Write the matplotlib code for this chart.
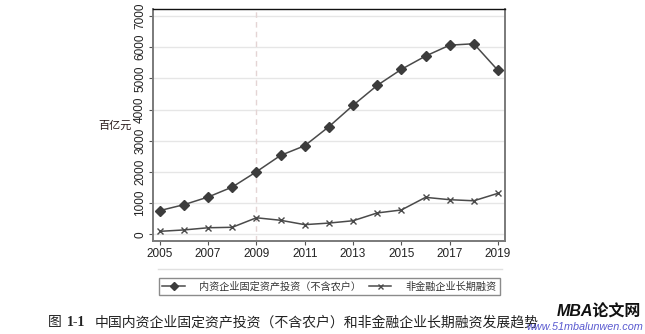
import matplotlib
matplotlib.use("Agg")
import matplotlib.pyplot as plt
from matplotlib.lines import Line2D

plt.rcParams['font.family'] = ['Liberation Sans', 'Noto Sans CJK SC', 'DejaVu Sans']

years = [2005, 2006, 2007, 2008, 2009, 2010, 2011, 2012, 2013, 2014,
         2015, 2016, 2017, 2018, 2019]
fixed_invest = [760, 950, 1195, 1515, 2005, 2530, 2840, 3450, 4135, 4775,
                5290, 5715, 6065, 6110, 5255]
long_finance = [95, 140, 210, 225, 530, 450, 310, 360, 435, 685,
                780, 1185, 1110, 1075, 1315]
xticks = [2005, 2007, 2009, 2011, 2013, 2015, 2017, 2019]
yticks = [0, 1000, 2000, 3000, 4000, 5000, 6000, 7000]
label_invest = "内资企业固定资产投资（不含农户）"
label_finance = "非金融企业长期融资"

W, H = 645, 334
fig = plt.figure(figsize=(W / 100, H / 100), dpi=100)
ax = fig.add_axes([153 / W, 1 - 240.7 / H, (505 - 153) / W, (240.7 - 9.3) / H])

line_c = '#4a4a4a'
ax.plot(years, fixed_invest, color=line_c, lw=1.1, marker='D', ms=5,
        mfc='#3c3c3c', mec='#3c3c3c', label=label_invest, zorder=3)
ax.plot(years, long_finance, color=line_c, lw=1.1, marker='x', ms=4.5,
        mew=1.0, mec='#4a4a4a', label=label_finance, zorder=3)

ax.axvline(2009, color='#e4d4d4', lw=1.0, ls=(0, (4, 3)), zorder=1)

ax.set_xlim(2004.72, 2019.29)
ax.set_ylim(-205, 7215)
ax.set_xticks(xticks)
ax.set_yticks(yticks)
ax.set_xticklabels([str(x) for x in xticks], fontsize=8.5, color='#222222')
ax.set_yticklabels([str(y) for y in yticks], fontsize=8.5, color='#222222',
                   rotation=90, va='center')
ax.yaxis.grid(True, color='#e6e6e6', lw=1.0)
ax.set_axisbelow(True)
ax.tick_params(axis='both', length=3, width=0.8, color='#555555', pad=2)

for side in ('left', 'right', 'bottom'):
    ax.spines[side].set_color('#7a7a7a')
    ax.spines[side].set_linewidth(1.4)
ax.spines['top'].set_color('#111111')
ax.spines['top'].set_linewidth(1.0)

fig.text(115 / W, 1 - 126 / H, "百亿元", fontsize=8, ha='center', va='center',
         color='#2a1a1a')

# thin rule above the legend
fig.add_artist(Line2D([158 / W, 502 / W], [1 - 269 / H, 1 - 269 / H],
                      transform=fig.transFigure, color='#e0e0e0', lw=1.0))

leg = fig.legend(loc='center', ncol=2,
                 bbox_to_anchor=(329.5 / W, 1 - 286.5 / H),
                 fontsize=7.3, frameon=True, fancybox=False, edgecolor='#6e6e6e',
                 handlelength=2.2, handletextpad=1.4, borderpad=0.3,
                 columnspacing=0.8, markerscale=0.8)
leg.get_frame().set_linewidth(1.0)
for t in leg.get_texts():
    t.set_color('#333333')

# figure caption
cap_y = 1 - 322 / H
fig.text(48 / W, cap_y, "图", fontsize=10, ha='left', va='center', color='#222222')
fig.text(67 / W, cap_y, "1-1", fontsize=10, fontweight='bold', ha='left',
         va='center', color='#222222', family=['Liberation Serif'])
fig.text(95 / W, cap_y,
         "中国内资企业固定资产投资（不含农户）和非金融企业长期融资发展趋势",
         fontsize=10, ha='left', va='center', color='#222222')

# site mark
fig.text(641 / W, 1 - 312 / H, "MBA论文网", fontsize=11.5, fontweight='bold',
         style='italic', ha='right', va='center', color='#111111')
fig.text(643 / W, 1 - 327 / H, "www.51mbalunwen.com", fontsize=7.8, style='italic',
         ha='right', va='center', color='#5a5ad0')

fig.savefig("out.png", dpi=100)
